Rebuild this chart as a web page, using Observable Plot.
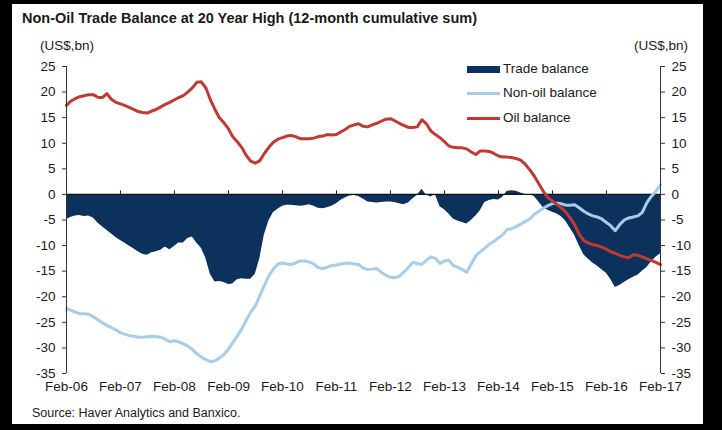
<!DOCTYPE html>
<html><head><meta charset="utf-8">
<script src="https://cdn.jsdelivr.net/npm/d3@7"></script>
<script src="https://cdn.jsdelivr.net/npm/@observablehq/plot@0.6"></script>
<style>
body{margin:0;background:#000;}
#frame{position:absolute;left:0;top:0;width:722px;height:430px;background:#000;overflow:hidden;font-family:"Liberation Sans",Arial,sans-serif;color:#1a1a1a;}
#paper{position:absolute;left:12px;top:4px;width:691px;height:420px;background:#fff;}
.t{position:absolute;white-space:nowrap;}
#title{left:22px;top:10px;font-weight:bold;font-size:14.5px;}
#unitL{left:40px;top:38px;font-size:13.5px;}
#unitR{left:588px;width:100px;text-align:right;top:38px;font-size:13.5px;}
#source{left:32px;top:406px;font-size:12.5px;}
#chart{position:absolute;left:0;top:50px;}
.sw{position:absolute;left:467px;width:33px;}
.lt{position:absolute;left:503px;font-size:13.5px;line-height:16px;}
</style></head>
<body>
<div id="frame">
  <div id="paper"></div>
  <div class="t" id="title">Non-Oil Trade Balance at 20 Year High (12-month cumulative sum)</div>
  <div class="t" id="unitL">(US$,bn)</div>
  <div class="t" id="unitR">(US$,bn)</div>
  <div id="chart"></div>
  <div id="legend"></div>
  <div class="t" id="source">Source: Haver Analytics and Banxico.</div>
</div>
<script>
// Monthly data, Feb-2006 .. Feb-2017 (12-month cumulative sums, US$ bn)
const startYear = 2006, startMonth = 1; // February (0-based)
const tradeBalance = [
 -4.9,-4.5,-4.2,-4.1,-4.3,-4.2,-4.6,-5.6,-6.3,-7.0,-7.7,-8.4,
 -9.0,-9.5,-10.1,-10.6,-11.2,-11.7,-11.9,-11.4,-11.2,-10.9,-10.3,-10.8,
 -10.2,-9.5,-9.5,-8.6,-8.3,-9.5,-10.5,-12.5,-15.6,-17.1,-17.0,-17.2,
 -17.6,-17.5,-16.7,-16.5,-16.6,-16.6,-15.6,-12.5,-8.0,-5.2,-3.6,-2.9,
 -2.3,-2.1,-2.1,-2.2,-2.3,-2.2,-2.0,-2.3,-2.7,-2.8,-2.6,-2.3,
 -1.8,-1.2,-0.7,-0.3,-0.2,-0.4,-0.9,-1.5,-1.6,-1.7,-1.6,-1.5,
 -1.5,-1.6,-1.8,-2.0,-1.7,-0.9,-0.2,1.0,-0.1,-0.5,0.0,-2.4,
 -3.0,-3.8,-4.8,-5.2,-5.5,-5.8,-5.1,-4.2,-3.2,-1.6,-1.2,-1.0,
 -1.1,-0.6,0.6,0.7,0.6,0.3,0.0,0.0,-0.4,-1.5,-2.6,-3.1,
 -3.5,-3.8,-4.3,-5.2,-6.6,-8.0,-10.0,-11.8,-12.6,-13.4,-14.0,-14.7,
 -15.4,-16.6,-18.2,-17.8,-17.2,-16.7,-16.2,-15.8,-15.0,-14.3,-13.2,-12.3,
 -11.6
];
const nonOilBalance = [
 -22.3,-22.6,-23.0,-23.3,-23.3,-23.4,-23.9,-24.5,-25.1,-25.6,-26.0,-26.5,
 -27.0,-27.3,-27.6,-27.7,-27.9,-27.9,-27.8,-27.7,-27.8,-27.9,-28.3,-28.8,
 -28.6,-28.8,-29.2,-29.6,-30.3,-31.1,-31.8,-32.3,-32.7,-32.5,-32.0,-31.3,
 -30.2,-29.0,-27.7,-26.3,-24.6,-23.0,-21.8,-19.8,-17.8,-15.9,-14.6,-13.6,
 -13.4,-13.6,-13.7,-13.4,-13.0,-13.0,-13.2,-13.6,-14.3,-14.5,-14.2,-13.9,
 -13.8,-13.6,-13.5,-13.4,-13.6,-13.7,-14.4,-14.7,-14.6,-14.5,-15.2,-15.8,
 -16.2,-16.3,-16.0,-15.2,-14.3,-13.3,-13.5,-13.7,-12.9,-12.2,-12.5,-13.5,
 -13.0,-12.8,-13.9,-14.2,-14.7,-15.2,-13.6,-12.0,-11.2,-10.5,-9.7,-9.2,
 -8.5,-7.9,-6.8,-6.7,-6.3,-5.8,-5.3,-4.8,-3.9,-3.3,-2.7,-2.2,
 -1.8,-1.7,-1.8,-2.1,-2.1,-2.0,-2.6,-3.3,-3.8,-4.2,-4.4,-4.8,
 -5.5,-6.1,-7.1,-5.9,-5.0,-4.6,-4.4,-4.2,-3.5,-1.6,-0.4,0.6,
 1.9
];
const oilBalance = [
 17.4,18.2,18.7,19.1,19.3,19.5,19.5,19.0,18.9,19.7,18.6,18.0,
 17.7,17.4,17.0,16.6,16.2,16.0,15.9,16.3,16.6,17.1,17.6,18.0,
 18.5,18.9,19.3,20.0,20.8,21.9,22.0,20.8,18.5,16.6,15.0,14.0,
 12.8,11.3,10.3,9.2,7.6,6.5,6.1,6.6,8.0,9.2,10.2,10.8,
 11.1,11.4,11.5,11.3,10.9,10.9,10.9,11.0,11.3,11.4,11.7,11.6,
 11.7,12.2,12.7,13.3,13.6,13.8,13.3,13.2,13.6,13.9,14.3,14.7,
 14.8,14.4,13.9,13.5,13.1,13.1,13.2,14.6,13.8,12.4,11.7,11.1,
 10.3,9.5,9.2,9.1,9.1,8.9,8.3,7.8,8.5,8.5,8.4,8.0,
 7.5,7.3,7.3,7.2,7.0,6.7,5.9,4.8,3.6,2.1,0.6,-0.6,
 -1.3,-1.9,-2.6,-3.4,-4.6,-5.9,-7.8,-9.0,-9.5,-9.8,-10.0,-10.3,
 -10.7,-11.2,-11.5,-11.9,-12.2,-12.4,-11.8,-11.9,-12.2,-12.6,-12.9,-13.3,
 -13.7
];
const xTickLabels = ["Feb-06","Feb-07","Feb-08","Feb-09","Feb-10","Feb-11","Feb-12","Feb-13","Feb-14","Feb-15","Feb-16","Feb-17"];
const yTicks = [25,20,15,10,5,0,-5,-10,-15,-20,-25,-30,-35];
const seriesNames = ["Trade balance","Non-oil balance","Oil balance"];
const colors = {trade:"#0c315c", nonoil:"#a6cde9", oil:"#c03a32"};

const dateOf = i => new Date(Date.UTC(startYear, startMonth + i, 1));
const toRows = arr => arr.map((v, i) => ({date: dateOf(i), value: v}));
const trade = toRows(tradeBalance), nonoil = toRows(nonOilBalance), oil = toRows(oilBalance);
const tickDates = xTickLabels.map((_, k) => dateOf(12 * k));
const x0 = tickDates[0], x1 = tickDates[tickDates.length - 1];
const labelOf = d => xTickLabels[d.getUTCFullYear() - startYear];

const chart = Plot.plot({
  width: 722, height: 350,
  marginLeft: 66, marginRight: 62, marginTop: 16, marginBottom: 27,
  style: {fontFamily: '"Liberation Sans", Arial, sans-serif', fontSize: "13.5px", color: "#1a1a1a", background: "transparent"},
  x: {type: "utc", domain: [x0, x1]},
  y: {domain: [-35, 25]},
  marks: [
    Plot.areaY(trade, {x: "date", y: "value", fill: colors.trade}),
    Plot.ruleY([0], {stroke: "#111", strokeWidth: 1.2}),
    Plot.ruleX(tickDates, {y1: 0, y2: 0.7, stroke: "#111"}),
    Plot.lineY(nonoil, {x: "date", y: "value", stroke: colors.nonoil, strokeWidth: 3}),
    Plot.lineY(oil, {x: "date", y: "value", stroke: colors.oil, strokeWidth: 3}),
    Plot.ruleX([x0, x1], {stroke: "#333"}),
    Plot.axisY({anchor: "left", ticks: yTicks, tickSize: 4, tickPadding: 7, tickFormat: d => String(d), label: null, stroke: "#333"}),
    Plot.axisY({anchor: "right", ticks: yTicks, tickSize: 4, tickPadding: 7, tickFormat: d => String(d), label: null, stroke: "#333"}),
    Plot.axisX({ticks: tickDates, tickSize: 0, tickPadding: 8, tickFormat: labelOf, label: null})
  ]
});
document.getElementById("chart").appendChild(chart);

// legend (inside plot, top-right)
const lg = document.getElementById("legend");
const items = [
  {name: seriesNames[0], color: colors.trade, h: 7, top: 66},
  {name: seriesNames[1], color: colors.nonoil, h: 3, top: 93},
  {name: seriesNames[2], color: colors.oil, h: 3, top: 118}
];
for (const it of items) {
  const sw = document.createElement("div");
  sw.className = "sw";
  sw.style.background = it.color;
  sw.style.height = it.h + "px";
  sw.style.top = (it.top - it.h / 2 + (it.h > 3 ? 3 : 0)) + "px";
  lg.appendChild(sw);
  const t = document.createElement("div");
  t.className = "t lt";
  t.textContent = it.name;
  t.style.top = (it.top - 8 + (it.h > 3 ? 3 : 0)) + "px";
  lg.appendChild(t);
}
</script>
</body></html>
